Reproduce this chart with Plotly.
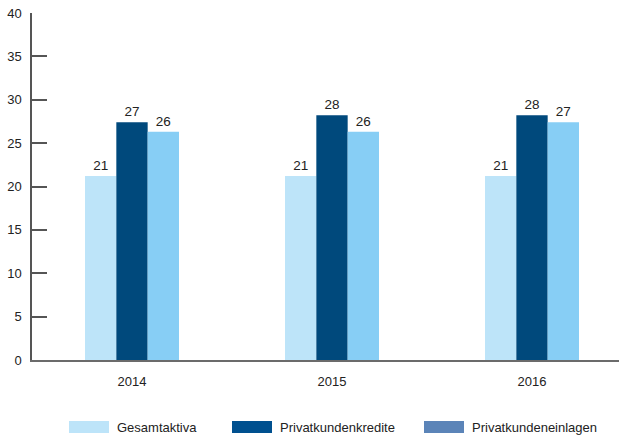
import plotly.graph_objects as go

years = ["2014", "2015", "2016"]
series_names = ["Gesamtaktiva", "Privatkundenkredite", "Privatkundeneinlagen"]
gesamtaktiva = [21.2, 21.2, 21.2]
privatkundenkredite = [27.4, 28.2, 28.2]
privatkundeneinlagen = [26.3, 26.3, 27.4]
y_ticks = [0, 5, 10, 15, 20, 25, 30, 35, 40]

bar_colors = ["#BDE4F9", "#00497C", "#87CEF5"]
legend_colors = ["#BDE4F9", "#00508F", "#5B84B8"]
font = "Liberation Sans, Arial, sans-serif"

fig = go.Figure()
for name, vals, col in zip(series_names, [gesamtaktiva, privatkundenkredite, privatkundeneinlagen], bar_colors):
    fig.add_trace(go.Bar(
        x=years, y=vals, name=name, marker=dict(color=col, line=dict(width=0)),
        text=[str(int(v)) for v in vals], textposition="outside",
        textfont=dict(family=font, size=13.5, color="#222"), cliponaxis=False,
        showlegend=False, hoverinfo="skip",
    ))

# manual legend with wide swatches
sw_x = [69, 232, 424]
W, H = 619, 437
ml, mr, mt, mb = 32, 0, 13, 77
pw, ph = W - ml - mr, H - mt - mb
def px(x):
    return (x - ml) / pw
def py(y):
    return (H - mb - y) / ph
for i, (name, col) in enumerate(zip(series_names, legend_colors)):
    x0 = sw_x[i]
    fig.add_shape(type="rect", xref="paper", yref="paper",
                  x0=px(x0), x1=px(x0 + 40), y0=py(433), y1=py(421),
                  fillcolor=col, line=dict(width=0))
    fig.add_annotation(xref="paper", yref="paper", x=px(x0 + 46), y=py(427),
                       text=name, showarrow=False, xanchor="left", yanchor="middle",
                       font=dict(family=font, size=13, color="#222"))

fig.update_layout(
    width=W, height=H, margin=dict(l=ml, r=mr, t=mt, b=mb, autoexpand=False),
    paper_bgcolor="white", plot_bgcolor="white",
    barmode="group", bargap=0.53, bargroupgap=0,
    font=dict(family=font, size=13, color="#222"),
    showlegend=False, hovermode=False,
    xaxis=dict(range=[-0.5, 2.435], showgrid=False, zeroline=False,
               showline=True, linecolor="#6b6b6b", linewidth=2,
               ticks="", tickfont=dict(size=13, color="#222"), ticklabelstandoff=8,
               automargin=False, fixedrange=True),
    yaxis=dict(range=[0, 40], tickvals=y_ticks, showgrid=False, zeroline=False,
               showline=True, linecolor="#555", linewidth=1.5,
               ticks="inside", ticklen=15, tickcolor="#555", tickwidth=1.5,
               tickfont=dict(size=13, color="#222"), ticklabelstandoff=6,
               automargin=False, fixedrange=True),
)

fig.write_html("out.html", config={"displayModeBar": False},
               post_script="document.body.style.margin='0';document.body.style.overflow='hidden';")
